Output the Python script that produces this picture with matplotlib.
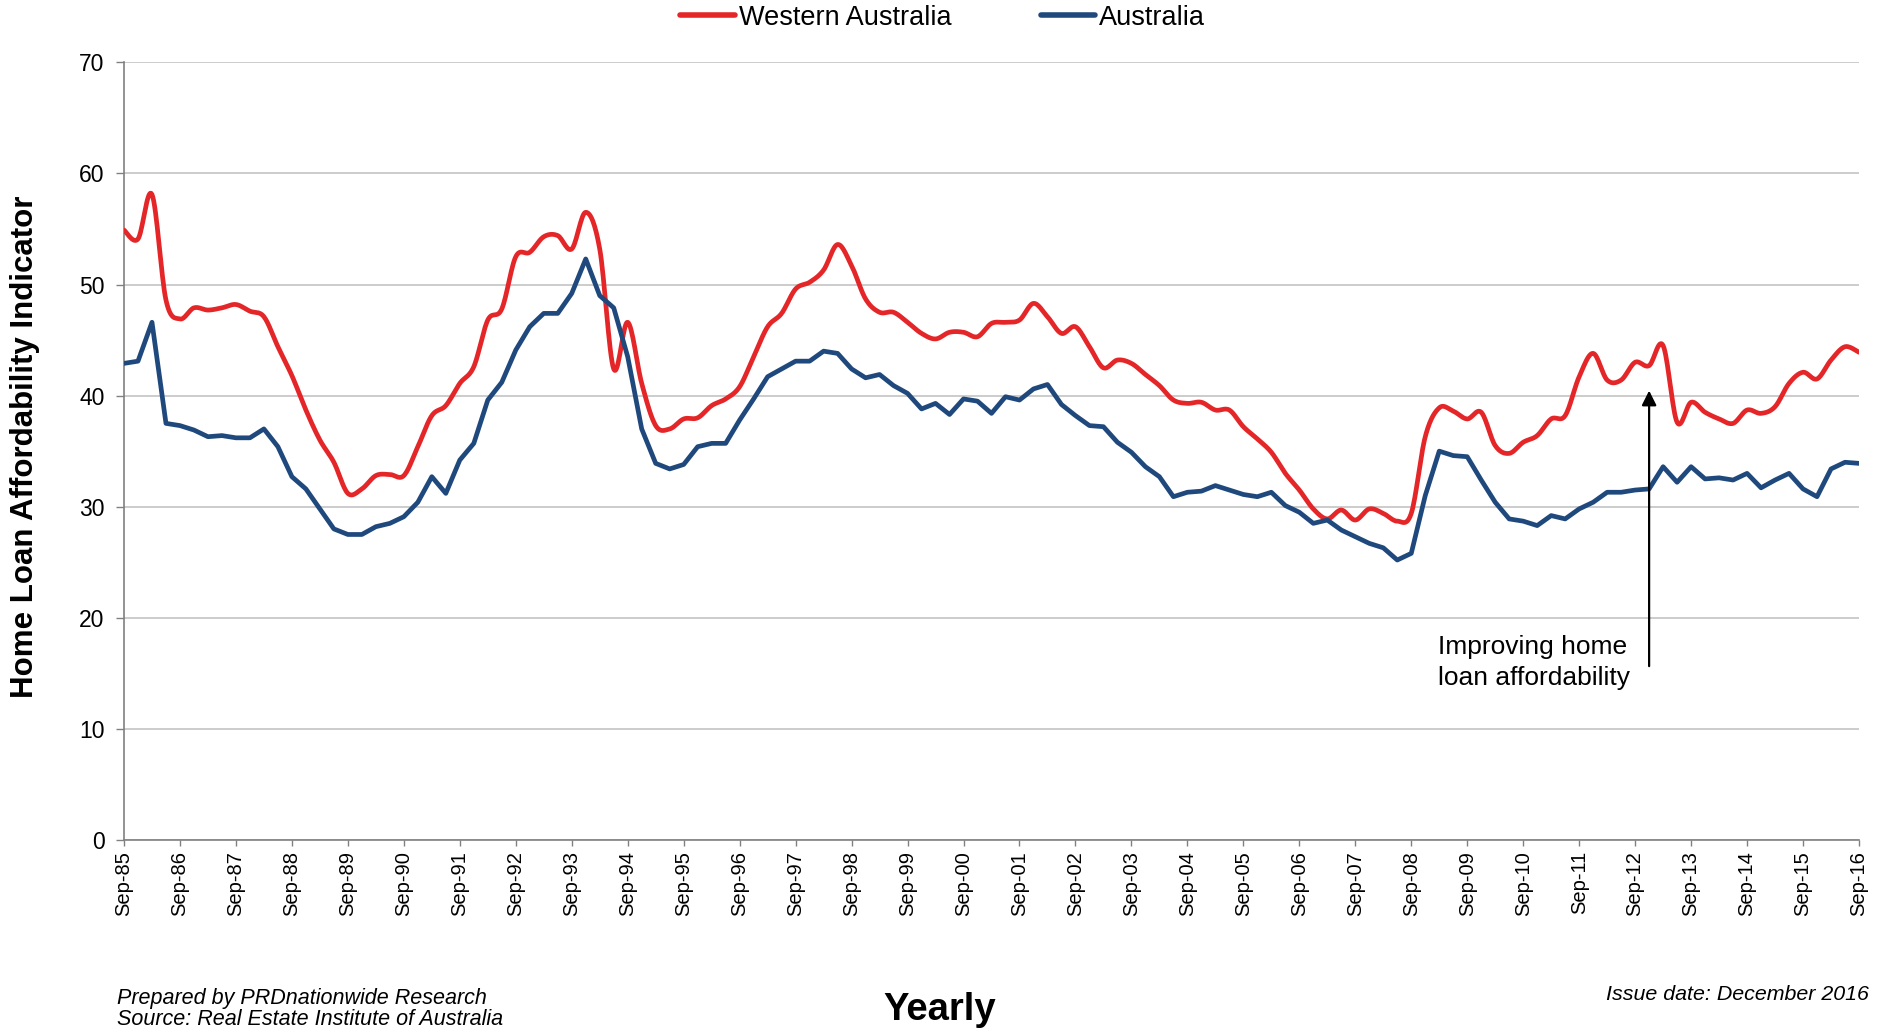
import numpy as np
import matplotlib
matplotlib.use("Agg")
import matplotlib.pyplot as plt
from matplotlib import font_manager

# ---------------- data ----------------
years = list(range(85, 100)) + list(range(0, 17))
tick_labels = ["Sep-%02d" % y for y in years]

australia = [42.9, 43.1, 46.6, 37.5, 37.3, 36.9, 36.3, 36.4, 36.2, 36.2,
             37.0, 35.4, 32.7, 31.6, 29.8, 28.0, 27.5, 27.5, 28.2, 28.5,
             29.1, 30.4, 32.7, 31.2, 34.2, 35.7, 39.6, 41.2, 44.1, 46.2,
             47.4, 47.4, 49.2, 52.3, 49.0, 47.9, 43.5, 37.0, 33.9, 33.4,
             33.8, 35.4, 35.7, 35.7, 37.8, 39.7, 41.7, 42.4, 43.1, 43.1,
             44.0, 43.8, 42.4, 41.6, 41.9, 40.9, 40.2, 38.8, 39.3, 38.3,
             39.7, 39.5, 38.4, 39.9, 39.6, 40.6, 41.0, 39.2, 38.2, 37.3,
             37.2, 35.8, 34.9, 33.6, 32.7, 30.9, 31.3, 31.4, 31.9, 31.5,
             31.1, 30.9, 31.3, 30.1, 29.5, 28.5, 28.8, 27.9, 27.3, 26.7,
             26.3, 25.2, 25.8, 31.0, 35.0, 34.6, 34.5, 32.4, 30.4, 28.9,
             28.7, 28.3, 29.2, 28.9, 29.8, 30.4, 31.3, 31.3, 31.5, 31.6,
             33.6, 32.2, 33.6, 32.5, 32.6, 32.4, 33.0, 31.7, 32.4, 33.0,
             31.6, 30.9, 33.4, 34.0, 33.9]

western_australia = [54.9, 54.1, 58.1, 48.6, 46.9, 47.9, 47.7, 47.9, 48.2, 47.6,
                     47.1, 44.4, 41.8, 38.7, 36.0, 34.0, 31.2, 31.6, 32.8, 32.9,
                     32.8, 35.4, 38.2, 39.1, 41.1, 42.6, 46.8, 47.8, 52.5, 52.9,
                     54.3, 54.4, 53.2, 56.5, 53.2, 42.4, 46.6, 41.1, 37.3, 37.0,
                     37.9, 38.0, 39.1, 39.7, 40.8, 43.5, 46.2, 47.4, 49.6, 50.2,
                     51.3, 53.6, 51.7, 48.7, 47.5, 47.5, 46.6, 45.6, 45.1, 45.7,
                     45.7, 45.3, 46.5, 46.6, 46.8, 48.3, 47.1, 45.6, 46.2, 44.4,
                     42.5, 43.2, 42.9, 41.9, 40.9, 39.6, 39.3, 39.4, 38.7, 38.7,
                     37.2, 36.1, 34.9, 33.0, 31.5, 29.8, 28.9, 29.7, 28.8, 29.8,
                     29.4, 28.7, 29.4, 36.3, 38.9, 38.6, 37.9, 38.5, 35.5, 34.8,
                     35.8, 36.4, 37.9, 38.2, 41.7, 43.8, 41.4, 41.4, 43.0, 42.7,
                     44.5, 37.6, 39.4, 38.5, 37.9, 37.5, 38.7, 38.4, 39.0, 41.1,
                     42.1, 41.5, 43.2, 44.4, 43.9]

series_names = ["Western Australia", "Australia"]
annotation_text = "Improving home\nloan affordability"
y_label = "Home Loan Affordability Indicator"
x_label = "Yearly"

# ---------------- fonts ----------------
avail = {f.name for f in font_manager.fontManager.ttflist}
BASE = "Liberation Sans" if "Liberation Sans" in avail else "DejaVu Sans"
NARROW = "Liberation Sans Narrow" if "Liberation Sans Narrow" in avail else BASE
narrow_scale = 1.15 if NARROW != BASE else 1.0
plt.rcParams["font.family"] = [BASE, "DejaVu Sans"]

RED = "#E42628"
BLUE = "#1F497D"


def excel_smooth(x, y, n=16):
    x = np.asarray(x, float)
    y = np.asarray(y, float)
    P = np.column_stack([x, y])
    out = [P[0]]
    t = np.linspace(0, 1, n + 1)[1:][:, None]
    for i in range(len(P) - 1):
        p0 = P[i]
        p3 = P[i + 1]
        pm = P[i - 1] if i > 0 else P[i]
        pn = P[i + 2] if i + 2 < len(P) else P[i + 1]
        c1 = p0 + (p3 - pm) / 6.0
        c2 = p3 - (pn - p0) / 6.0
        seg = ((1 - t) ** 3) * p0 + 3 * ((1 - t) ** 2) * t * c1 + 3 * (1 - t) * t ** 2 * c2 + t ** 3 * p3
        out.extend(seg)
    out = np.array(out)
    return out[:, 0], out[:, 1]


fig = plt.figure(figsize=(18.89, 10.32), dpi=100)
ax = fig.add_axes([124 / 1889, 1 - 840 / 1032, (1859 - 124) / 1889, (840 - 62.3) / 1032])

xq = np.arange(len(australia))
sx, sy = excel_smooth(xq, western_australia)
ax.plot(sx, sy, color=RED, lw=3.4, solid_capstyle="round", solid_joinstyle="round",
        label=series_names[0], zorder=3)
ax.plot(xq, australia, color=BLUE, lw=3.4, solid_joinstyle="round", solid_capstyle="round",
        label=series_names[1], zorder=3)

ax.set_xlim(0, len(australia) - 1)
ax.set_ylim(0, 70)
ax.set_yticks(np.arange(0, 71, 10))
ax.yaxis.grid(True, color="#C8C8C8", lw=1.3)
ax.set_axisbelow(True)
ax.set_xticks(np.arange(0, len(australia), 4))
ax.set_xticklabels(tick_labels, rotation=90, fontsize=14.5)
ax.tick_params(axis="y", labelsize=16.5, length=6, width=1, color="#808080", pad=8)
ax.tick_params(axis="x", length=4, width=1, color="#808080", pad=4)
for s in ["top", "right"]:
    ax.spines[s].set_visible(False)
for s in ["left", "bottom"]:
    ax.spines[s].set_color("#808080")
    ax.spines[s].set_linewidth(1.2)

# annotation arrow
ax.annotate("", xy=(109, 40.7), xytext=(109, 15.4),
            arrowprops=dict(arrowstyle="-|>", color="black", lw=1.6, mutation_scale=22))
ax.text(93.9, 16.0, annotation_text, ha="left", va="center", fontsize=19,
        linespacing=1.35, color="black")

fig.text(0.013, 0.567, y_label, rotation=90, ha="center", va="center",
         fontsize=22.5, fontweight="bold")

leg = fig.legend(loc="center", bbox_to_anchor=(0.499, 0.983), ncol=2, frameon=False,
                 fontsize=19.5, handlelength=2.0, handletextpad=0.15, columnspacing=3.3)
for line in leg.get_lines():
    line.set_linewidth(4)

fig.text(0.4976, 0.0215, x_label, ha="center", va="center", fontsize=27.5 * narrow_scale,
         fontweight="bold", family=[NARROW, "DejaVu Sans"])
fig.text(0.062, 0.032, "Prepared by PRDnationwide Research", ha="left", va="center",
         fontsize=15.5 * narrow_scale, style="italic", family=[NARROW, "DejaVu Sans"])
fig.text(0.062, 0.012, "Source: Real Estate Institute of Australia", ha="left", va="center",
         fontsize=15.5 * narrow_scale, style="italic", family=[NARROW, "DejaVu Sans"])
fig.text(0.9894, 0.036, "Issue date: December 2016", ha="right", va="center",
         fontsize=15.4 * narrow_scale, style="italic", family=[NARROW, "DejaVu Sans"])

fig.savefig("out.png", dpi=100)
